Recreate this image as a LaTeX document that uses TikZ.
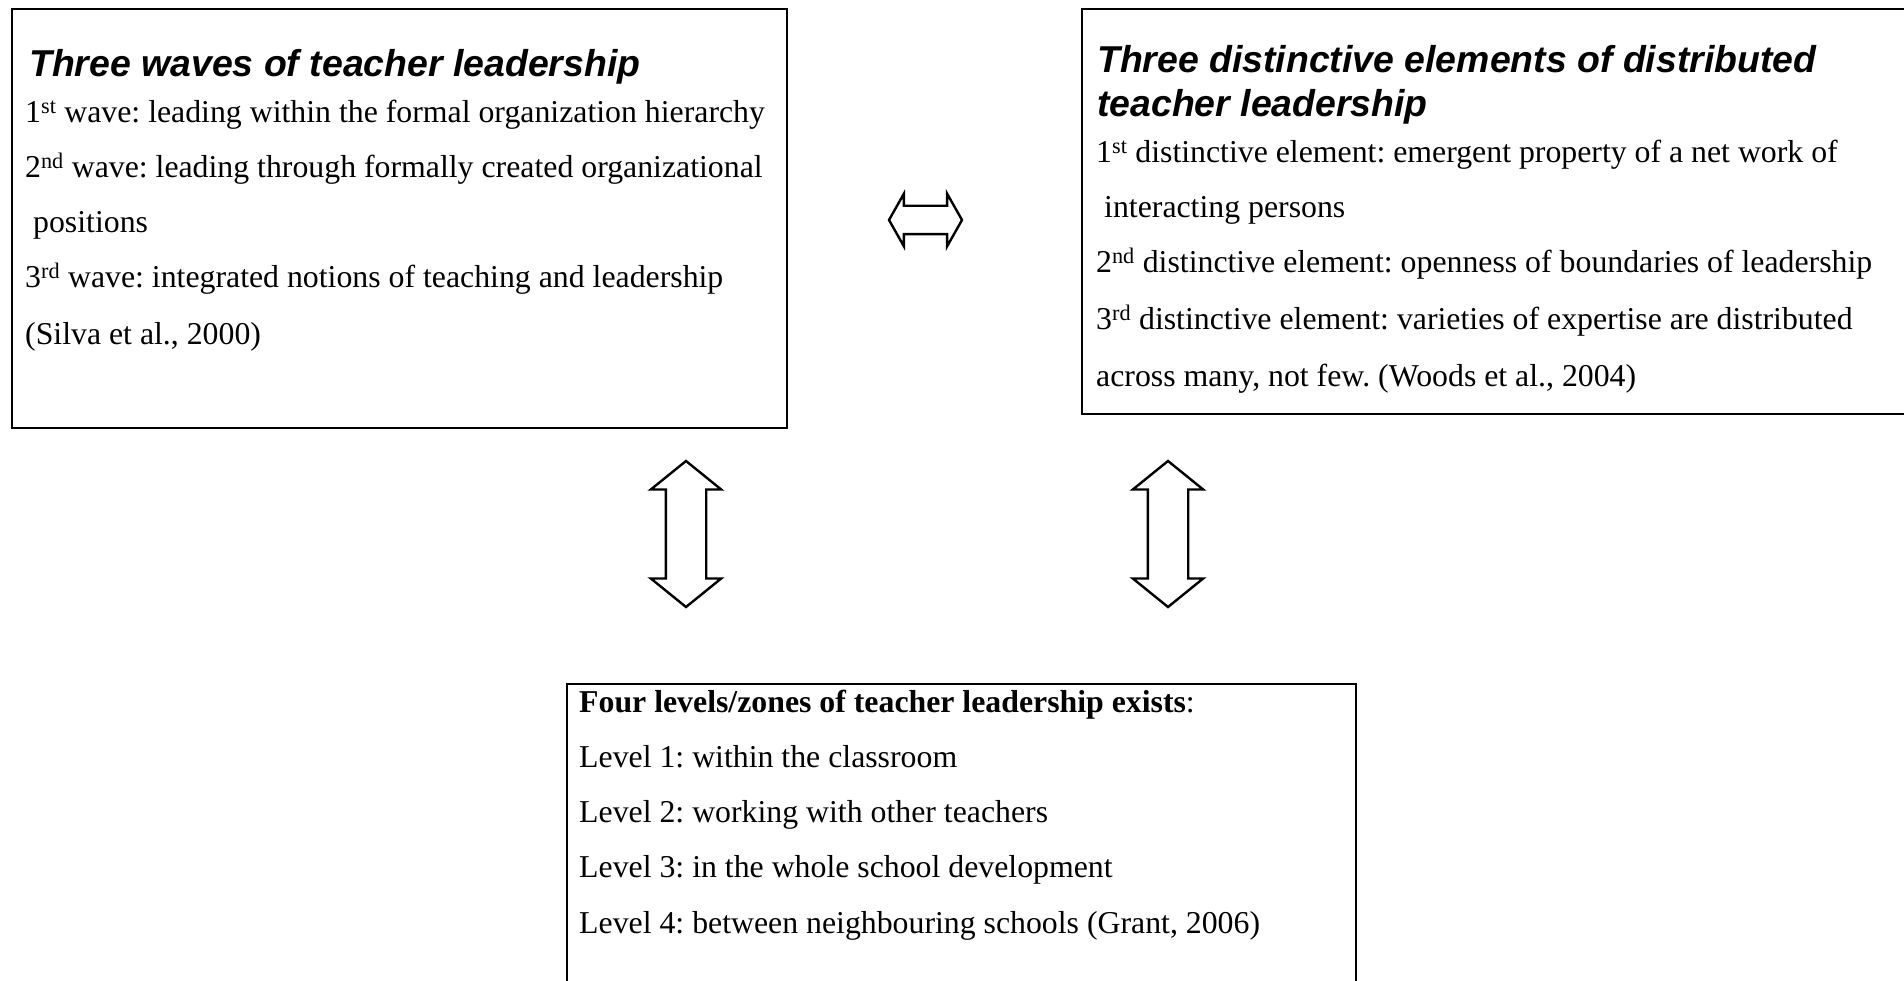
\documentclass[tikz,border=0pt]{standalone}
\usepackage{fontspec}
\setmainfont{Liberation Serif}
\newfontfamily\headfont{Liberation Sans}
\usetikzlibrary{shapes.arrows}
\frenchspacing

\newcommand{\bodysize}{\fontsize{31.8}{55}\selectfont}
\newcommand{\headsize}{\headfont\bfseries\itshape\fontsize{37.4}{44}\selectfont}

\tikzset{
  infobox/.style={draw, line width=1.6pt, rectangle, inner sep=0pt, anchor=north west},
  textline/.style={anchor=base west, inner sep=0pt, font=\bodysize},
  headline/.style={anchor=base west, inner sep=0pt, font=\headsize},
  bigarrow/.style={draw, line width=2.4pt, double arrow, fill=white},
}

\begin{document}
\begin{tikzpicture}[x=1pt,y=-1pt]
\useasboundingbox (0,0) rectangle (1904,981);
\clip (0,0) rectangle (1904,981);

% waves box
\node[infobox, minimum width=775pt, minimum height=419pt] (waves) at (11,8) {};
\node[headline] (wavestitle) at (29,77) {Three waves of teacher leadership};
\node[textline] (wave1) at (25,123) {1\textsuperscript{st} wave: leading within the formal organization hierarchy};
\node[textline] (wave2) at (25,178) {2\textsuperscript{nd} wave: leading through formally created organizational};
\node[textline] (wave2b) at (33,233) {positions};
\node[textline] (wave3) at (25,288) {3\textsuperscript{rd} wave: integrated notions of teaching and leadership};
\node[textline] (silva) at (25,345) {(Silva et al., 2000)};

% elements box
\node[infobox, minimum width=840pt, minimum height=405pt] (elements) at (1081,8) {};
\node[headline] (elemtitle) at (1097,73) {Three distinctive elements of distributed};
\node[headline] (elemtitleb) at (1097,117) {teacher leadership};
\node[textline] (elem1) at (1096,163) {1\textsuperscript{st} distinctive element: emergent property of a net work of};
\node[textline] (elem1b) at (1104,218) {interacting persons};
\node[textline] (elem2) at (1096,273) {2\textsuperscript{nd} distinctive element: openness of boundaries of leadership};
\node[textline] (elem3) at (1096,330) {3\textsuperscript{rd} distinctive element: varieties of expertise are distributed};
\node[textline] (woods) at (1096,387) {across many, not few. (Woods et al., 2004)};

% levels box
\node[infobox, minimum width=789pt, minimum height=320pt] (levels) at (566,683) {};
\node[textline] (levtitle) at (579,712) {\textbf{Four levels/zones of teacher leadership exists}:};
\node[textline] (lev1) at (579,767) {Level 1: within the classroom};
\node[textline] (lev2) at (579,822) {Level 2: working with other teachers};
\node[textline] (lev3) at (579,877) {Level 3: in the whole school development};
\node[textline] (lev4) at (579,933) {Level 4: between neighbouring schools (Grant, 2006)};

% arrows
\node[bigarrow, inner sep=13pt, minimum height=73pt, minimum width=50pt,
      double arrow head extend=12pt, double arrow tip angle=121] (linkh) at (925.5,220) {};
\node[bigarrow, inner sep=19pt, shape border rotate=90, minimum height=146pt, minimum width=68pt,
      double arrow head extend=15pt, double arrow tip angle=102] (linkl) at (686,534) {};
\node[bigarrow, inner sep=19pt, shape border rotate=90, minimum height=146pt, minimum width=68pt,
      double arrow head extend=15pt, double arrow tip angle=102] (linkr) at (1168,534) {};
\end{tikzpicture}
\end{document}
